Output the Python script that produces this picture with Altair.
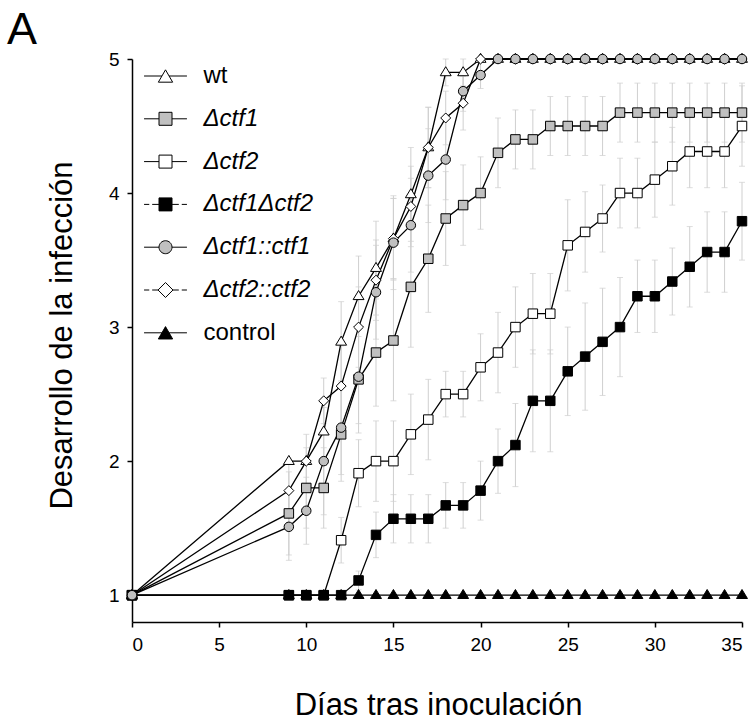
import altair as alt
import pandas as pd

days = [0, 9, 10, 11, 12, 13, 14, 15, 16, 17, 18, 19, 20, 21, 22, 23, 24, 25, 26, 27, 28, 29, 30, 31, 32, 33, 34, 35]

series_names = ["wt", "Δctf1", "Δctf2", "Δctf1Δctf2", "Δctf1::ctf1", "Δctf2::ctf2", "control"]

wt = [1, 2.0, 2.0, 2.22, 2.89, 3.23, 3.44, 3.66, 3.99, 4.34, 4.9, 4.9, 5, 5, 5, 5, 5, 5, 5, 5, 5, 5, 5, 5, 5, 5, 5, 5]
d_ctf1 = [1, 1.61, 1.8, 1.8, 2.2, 2.61, 2.81, 2.9, 3.3, 3.51, 3.81, 3.91, 4.0, 4.3, 4.4, 4.4, 4.5, 4.5, 4.5, 4.5, 4.6, 4.6, 4.6, 4.6, 4.6, 4.6, 4.6, 4.6]
d_ctf2 = [1, 1, 1, 1, 1.41, 1.91, 2.0, 2.0, 2.2, 2.31, 2.5, 2.5, 2.7, 2.81, 3.0, 3.1, 3.1, 3.61, 3.71, 3.81, 4.0, 4.0, 4.1, 4.2, 4.31, 4.31, 4.31, 4.5]
d_double = [1, 1, 1, 1, 1, 1.11, 1.45, 1.57, 1.57, 1.57, 1.67, 1.67, 1.78, 2.0, 2.12, 2.45, 2.45, 2.67, 2.78, 2.89, 3.0, 3.23, 3.23, 3.34, 3.45, 3.56, 3.56, 3.79]
c_ctf1 = [1, 1.51, 1.63, 2.0, 2.25, 2.63, 3.26, 3.63, 3.76, 4.13, 4.25, 4.76, 4.88, 5, 5, 5, 5, 5, 5, 5, 5, 5, 5, 5, 5, 5, 5, 5]
c_ctf2 = [1, 1.78, 2.0, 2.45, 2.56, 3.0, 3.35, 3.66, 3.9, 4.34, 4.56, 4.67, 5, 5, 5, 5, 5, 5, 5, 5, 5, 5, 5, 5, 5, 5, 5, 5]
control = [1, 1, 1, 1, 1, 1, 1, 1, 1, 1, 1, 1, 1, 1, 1, 1, 1, 1, 1, 1, 1, 1, 1, 1, 1, 1, 1, 1]

wt_err = [0, 0, 0, 0.25, 0.3, 0.3, 0.35, 0.3, 0.35, 0.3, 0.1, 0.1, 0, 0, 0, 0, 0, 0, 0, 0, 0, 0, 0, 0, 0, 0, 0, 0]
d_ctf1_err = [0, 0.31, 0.3, 0.3, 0.35, 0.4, 0.4, 0.45, 0.45, 0.4, 0.35, 0.3, 0.27, 0.26, 0.22, 0.22, 0.22, 0.22, 0.22, 0.22, 0.22, 0.22, 0.22, 0.22, 0.22, 0.22, 0.22, 0.22]
d_ctf2_err = [0, 0, 0, 0, 0.17, 0.25, 0.3, 0.3, 0.3, 0.3, 0.17, 0.17, 0.25, 0.3, 0.3, 0.3, 0.3, 0.34, 0.3, 0.25, 0.26, 0.26, 0.28, 0.29, 0.27, 0.27, 0.27, 0.3]
d_double_err = [0, 0, 0, 0, 0, 0.07, 0.17, 0.18, 0.18, 0.18, 0.17, 0.17, 0.22, 0.24, 0.31, 0.38, 0.38, 0.33, 0.4, 0.4, 0.37, 0.27, 0.27, 0.25, 0.3, 0.3, 0.3, 0.29]
c_ctf1_err = [0, 0.25, 0.25, 0.4, 0.35, 0.35, 0.35, 0.35, 0.35, 0.35, 0.3, 0.15, 0.1, 0, 0, 0, 0, 0, 0, 0, 0, 0, 0, 0, 0, 0, 0, 0]
c_ctf2_err = [0, 0.2, 0.2, 0.17, 0.3, 0.3, 0.3, 0.3, 0.3, 0.3, 0.2, 0.2, 0, 0, 0, 0, 0, 0, 0, 0, 0, 0, 0, 0, 0, 0, 0, 0]
control_err = [0, 0, 0, 0, 0, 0, 0, 0, 0, 0, 0, 0, 0, 0, 0, 0, 0, 0, 0, 0, 0, 0, 0, 0, 0, 0, 0, 0]

fill_colors = ["#ffffff", "#c0c0c0", "#ffffff", "#000000", "#c0c0c0", "#ffffff", "#000000"]
stroke_colors = ["#000000", "#000000", "#000000", "#000000", "#000000", "#000000", "#000000"]
z_order = [1, 3, 2, 4, 6, 5, 0]

values = [wt, d_ctf1, d_ctf2, d_double, c_ctf1, c_ctf2, control]
errors = [wt_err, d_ctf1_err, d_ctf2_err, d_double_err, c_ctf1_err, c_ctf2_err, control_err]

rows = []
for name, vals, errs, z in zip(series_names, values, errors, z_order):
    for d, v, e in zip(days, vals, errs):
        rows.append({"series": name, "day": d, "value": v, "lo": v - e, "hi": v + e, "err": e, "z": z})
df = pd.DataFrame(rows)

# marker shapes (unit paths)
TRI = "M0,-1.2L1.15,0.7L-1.15,0.7Z"
SQ = "M-1,-1H1V1H-1Z"
CIRC = "M1,0A1,1,0,1,1,-1,0A1,1,0,1,1,1,0Z"
DIAM = "M0,-1.05L1.05,0L0,1.05L-1.05,0Z"
plot_shapes = [TRI, SQ, SQ, SQ, CIRC, DIAM, TRI]

# legend symbols: line + marker
SOLID_T = "M-3.3,0H-0.55M0.55,0H3.3"
SOLID = "M-3.3,0H-1M1,0H3.3"
DASH = "M-3.3,0H-2.5M-2.05,0H-1M1,0H2.05M2.5,0H3.3"
DASH_D = "M-3.3,0H-2.5M-2.05,0H-1.15M1.15,0H2.05M2.5,0H3.3"
LTRI = "M0,-0.95L1.1,0.95L-1.1,0.95Z"
LDIAM = "M0,-1.15L1.15,0L0,1.15L-1.15,0Z"
legend_shapes = [SOLID_T + LTRI, SOLID + SQ, SOLID + SQ, DASH + SQ, SOLID + CIRC,
                 DASH_D + LDIAM, SOLID_T + LTRI]


def make_legend():
    return alt.Legend(
        title=None,
        orient="none",
        legendX=21.5,
        legendY=5,
        padding=0,
        symbolSize=169,
        symbolStrokeWidth=1,
        symbolOpacity=1,
        labelFont="Liberation Sans",
        labelFontSize=24,
        labelColor="black",
        labelFontStyle={"expr": "datum.value === 'wt' || datum.value === 'control' ? 'normal' : 'italic'"},
        labelOffset=26,
        labelLimit=400,
        rowPadding=18.8,
    )


x_enc = alt.X("day:Q", scale=alt.Scale(domain=[0, 35], nice=False, zero=False),
              axis=alt.Axis(values=[0, 5, 10, 15, 20, 25, 30, 35], title="Días tras inoculación",
                            titleX=306, titleY=83, titleBaseline="middle", titleAlign="center",
                            labelPadding=8))
y_scale = alt.Scale(domain=[0.8, 5], nice=False, zero=False)
y_enc = alt.Y("value:Q", scale=y_scale,
              axis=alt.Axis(values=[1, 2, 3, 4, 5], format="d", title="Desarrollo de la infección",
                            titleX=-70, titleY=276, titleAngle=-90, titleBaseline="middle",
                            titleAlign="center", labelPadding=8))

base = alt.Chart(df)

err_rule = base.transform_filter("datum.err > 0").mark_rule(color="#cfcfcf", strokeWidth=1).encode(
    x=alt.X("day:Q"), y=alt.Y("lo:Q"), y2="hi:Q")
cap_lo = base.transform_filter("datum.err > 0").mark_tick(orient="horizontal", size=6, thickness=1, color="#cfcfcf").encode(
    x=alt.X("day:Q"), y=alt.Y("lo:Q"))
cap_hi = base.transform_filter("datum.err > 0").mark_tick(orient="horizontal", size=6, thickness=1, color="#cfcfcf").encode(
    x=alt.X("day:Q"), y=alt.Y("hi:Q"))

lines = base.mark_line(color="black", strokeWidth=1.3).encode(
    x=x_enc, y=y_enc, detail="series:N", order="day:Q")

points = base.mark_point(filled=True, stroke="black", strokeWidth=1, size=90, opacity=1).encode(
    x=alt.X("day:Q"), y=alt.Y("value:Q"),
    shape=alt.Shape("series:N", scale=alt.Scale(domain=series_names, range=plot_shapes), legend=None),
    fill=alt.Fill("series:N", scale=alt.Scale(domain=series_names, range=fill_colors), legend=None),
    order=alt.Order("z:Q"),
)

legend_layer = base.transform_filter("false").mark_point(filled=True, strokeWidth=1, opacity=1).encode(
    shape=alt.Shape("series:N", scale=alt.Scale(domain=series_names, range=legend_shapes), legend=make_legend()),
    fill=alt.Fill("series:N", scale=alt.Scale(domain=series_names, range=fill_colors), legend=make_legend()),
    stroke=alt.Stroke("series:N", scale=alt.Scale(domain=series_names, range=stroke_colors), legend=make_legend()),
)

chart = alt.layer(err_rule, cap_lo, cap_hi, lines, points, legend_layer).resolve_scale(
    shape="independent", fill="independent", stroke="independent"
).properties(
    width=610, height=563,
    autosize=alt.AutoSizeParams(type="none"),
    padding={"left": 132, "top": 59, "right": 10, "bottom": 102},
    title=alt.TitleParams("A", anchor="start", frame="group", fontSize=45, font="Liberation Sans",
                          fontWeight="normal", color="black", dx=-125, offset=0, dy=3),
).configure_view(stroke=None).configure_axis(
    grid=False, domainColor="black", domainWidth=1.5, tickColor="black", tickWidth=1.5, tickSize=5,
    labelFont="Liberation Sans", labelFontSize=19, labelColor="black",
    titleFont="Liberation Sans", titleFontSize=31, titleFontWeight="normal", titleColor="black",
)

chart.save("out.html", embed_options={"renderer": "svg", "actions": False})
